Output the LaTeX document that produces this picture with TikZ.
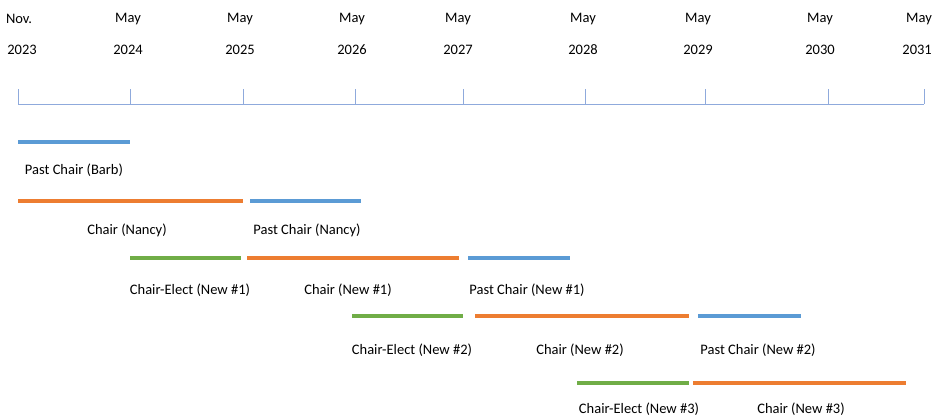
\documentclass[tikz,border=0pt]{standalone}
\usepackage{fontspec}
\setmainfont{Carlito}
\usepackage{tikz}
\definecolor{pastblue}{HTML}{5B9BD5}
\definecolor{chairorange}{HTML}{ED7D31}
\definecolor{electgreen}{HTML}{70AD47}
\definecolor{axisblue}{HTML}{8FAADC}
\tikzstyle{axis} = [draw=axisblue, line width=1pt]
\tikzstyle{datelabel} = [font=\fontsize{14.5}{16}\selectfont, inner sep=0pt, anchor=center]
\tikzstyle{rolelabel} = [font=\fontsize{14.5}{16}\selectfont, inner sep=0pt, anchor=center]
\tikzstyle{past} = [draw=pastblue, line width=4pt]
\tikzstyle{chair} = [draw=chairorange, line width=4pt]
\tikzstyle{elect} = [draw=electgreen, line width=4pt]
% \term{style}{y}{from}{to}{label x}{label y}{name}{text}
\newcommand{\term}[8]{%
  \coordinate (#7s) at (#3,#2);
  \coordinate (#7e) at (#4,#2);
  \draw [#1] (#7s) -- (#7e);
  \node (#7) [rolelabel] at (#5,#6) {#8};
}

\begin{document}
\begin{tikzpicture}[x=1pt, y=-1pt]
\useasboundingbox (0,0) rectangle (933,418);

% time axis
\coordinate (t0) at (18,104);
\coordinate (t8) at (924,104);
\draw [axis] (t0) -- (t8);
\foreach \x/\yr [count=\i] in {18/2023, 130/2024, 243/2025, 355/2026, 463/2027, 585/2028, 705/2029, 828/2030, 924/2031} {
  \coordinate (tick\i) at (\x,104);
  \draw [axis] (tick\i) -- ++(0,-15);
}
\node (nov) [datelabel] at (19,19) {Nov.};
\node (y2023) [datelabel] at (22,50) {2023};
\foreach \x/\yr in {128/2024, 240/2025, 352/2026, 458/2027, 583/2028, 698/2029, 820/2030} {
  \node (may\yr) [datelabel] at (\x,19) {May};
  \node (y\yr) [datelabel] at (\x,50) {\yr};
}
\node (may2031) [datelabel, anchor=east] at (932,19) {May};
\node (y2031) [datelabel, anchor=east] at (932,50) {2031};

% terms
\term{past}{142}{18}{130}{74}{170}{barb}{Past Chair (Barb)}
\term{chair}{201}{18}{243}{127}{230}{nancy}{Chair (Nancy)}
\term{past}{201}{250}{361}{307}{230}{pnancy}{Past Chair (Nancy)}
\term{elect}{258}{130}{241}{190}{290}{eone}{Chair-Elect (New \#1)}
\term{chair}{258}{247}{459}{348}{290}{cone}{Chair (New \#1)}
\term{past}{258}{468}{570}{527}{290}{pone}{Past Chair (New \#1)}
\term{elect}{316}{352}{463}{412}{350}{etwo}{Chair-Elect (New \#2)}
\term{chair}{316}{475}{689}{580}{350}{ctwo}{Chair (New \#2)}
\term{past}{316}{698}{801}{758}{350}{ptwo}{Past Chair (New \#2)}
\term{elect}{383}{577}{689}{639}{409}{ethree}{Chair-Elect (New \#3)}
\term{chair}{383}{693}{906}{801}{409}{cthree}{Chair (New \#3)}

\end{tikzpicture}
\end{document}
